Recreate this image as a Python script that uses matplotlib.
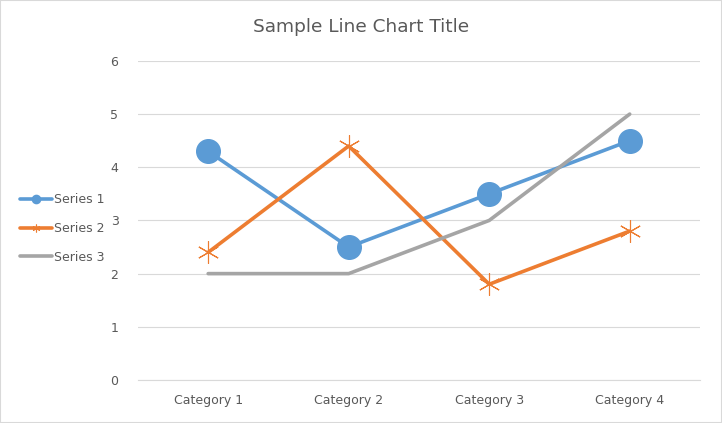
import matplotlib.pyplot as plt
from matplotlib.patches import Rectangle

# Dados do gráfico
categories = ["Category 1", "Category 2", "Category 3", "Category 4"]
series1 = [4.3, 2.5, 3.5, 4.5]
series2 = [2.4, 4.4, 1.8, 2.8]
series3 = [2, 2, 3, 5]
y_ticks = [0, 1, 2, 3, 4, 5, 6]

text_color = "#595959"

fig = plt.figure(figsize=(7.22, 4.23), dpi=100)
ax = fig.add_axes([0.191, 0.1017, 0.7785, 0.7543])

x = range(len(categories))
ax.plot(x, series1, color="#5B9BD5", linewidth=2.6, marker="o", markersize=17,
        solid_capstyle="round", label="Series 1")
ax.plot(x, series2, color="#ED7D31", linewidth=2.6, marker=(6, 2, 0), markersize=16,
        markeredgewidth=0.8, solid_capstyle="round", label="Series 2")
ax.plot(x, series3, color="#A5A5A5", linewidth=2.6, solid_capstyle="round", label="Series 3")

ax.set_xlim(-0.5, 3.5)
ax.set_ylim(0, 6)
ax.set_xticks(list(x))
ax.set_xticklabels(categories)
ax.set_yticks(y_ticks)
ax.tick_params(axis="both", length=0, colors=text_color, labelsize=9)
ax.tick_params(axis="y", pad=14)
ax.tick_params(axis="x", pad=10)
ax.grid(axis="y", color="#D9D9D9", linewidth=0.8)
ax.set_axisbelow(True)
for s in ["top", "right", "left"]:
    ax.spines[s].set_visible(False)
ax.spines["bottom"].set_color("#D9D9D9")

fig.text(0.5, 0.935, "Sample Line Chart Title", ha="center", va="center",
         fontsize=13.3, color=text_color)

leg = fig.legend(loc="center left", bbox_to_anchor=(0.012, 0.46), frameon=False,
                 fontsize=9, labelcolor=text_color, handlelength=2.6,
                 handletextpad=0.1, labelspacing=1.25, markerscale=0.35)

# Borda da figura
fig.patches.append(Rectangle((0, 0), 1, 1, transform=fig.transFigure, fill=False,
                             edgecolor="#D9D9D9", linewidth=1.5))

fig.savefig("out.png", dpi=100)
plt.close()
